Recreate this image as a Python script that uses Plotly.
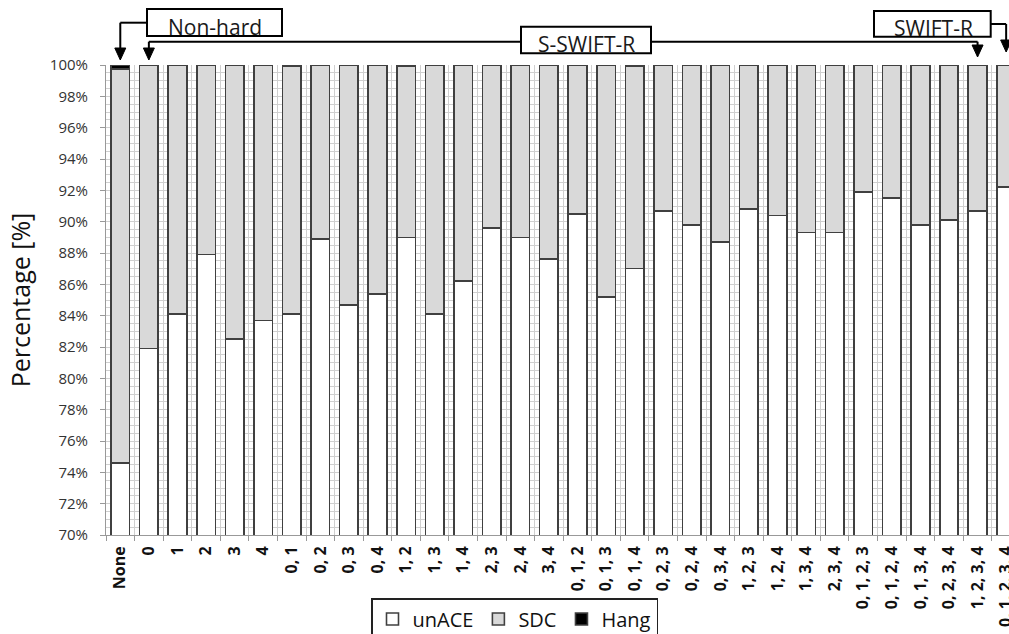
import plotly.graph_objects as go

categories = ["None", "0", "1", "2", "3", "4",
              "0, 1", "0, 2", "0, 3", "0, 4", "1, 2", "1, 3", "1, 4", "2, 3", "2, 4", "3, 4",
              "0, 1, 2", "0, 1, 3", "0, 1, 4", "0, 2, 3", "0, 2, 4", "0, 3, 4",
              "1, 2, 3", "1, 2, 4", "1, 3, 4", "2, 3, 4",
              "0, 1, 2, 3", "0, 1, 2, 4", "0, 1, 3, 4", "0, 2, 3, 4", "1, 2, 3, 4",
              "0, 1, 2, 3, 4"]

unace = [74.6, 81.9, 84.1, 87.9, 82.5, 83.7,
         84.1, 88.9, 84.7, 85.4, 89.0, 84.1, 86.2, 89.6, 89.0, 87.6,
         90.5, 85.2, 87.0, 90.7, 89.8, 88.7,
         90.8, 90.4, 89.3, 89.3,
         91.9, 91.5, 89.8, 90.1, 90.7,
         92.2]

sdc = [25.15, 18.1, 15.9, 12.1, 17.5, 16.3,
       15.8, 11.1, 15.3, 14.6, 10.9, 15.9, 13.8, 10.4, 11.0, 12.4,
       9.5, 14.8, 12.92, 9.3, 10.2, 11.3,
       9.2, 9.6, 10.7, 10.7,
       8.1, 8.5, 10.2, 9.9, 9.3,
       7.8]

hang = [0.25, 0, 0, 0, 0, 0,
        0.1, 0, 0, 0, 0.1, 0, 0, 0, 0, 0,
        0, 0, 0.08, 0, 0, 0,
        0, 0, 0, 0,
        0, 0, 0, 0, 0,
        0]

series_names = ["unACE", "SDC", "Hang"]
series_colors = ["#ffffff", "#d9d9d9", "#000000"]

FONT = "Open Sans"
X_RANGE = [-0.5, 31.1]

fig = go.Figure()
for name, vals, col in zip(series_names, [unace, sdc, hang], series_colors):
    fig.add_trace(go.Bar(
        x=categories, y=vals, name=name,
        marker=dict(color=col, line=dict(color="#404040", width=1.6)),
    ))


def xp(i):
    return (i - X_RANGE[0]) / (X_RANGE[1] - X_RANGE[0])


def yp(py):
    # pixel row (from top of figure) -> paper coordinate; plot spans rows 65..535
    return (535 - py) / 470.0


def xpx(px):
    return (px - 106) / 903.0


shapes = []
LW = 2
TRI_HW = 5.5 / 903.0
TRI_H = 12 / 470.0


def line(x0, y0, x1, y1):
    shapes.append(dict(type="line", xref="paper", yref="paper", x0=x0, y0=y0, x1=x1, y1=y1,
                       line=dict(color="black", width=LW)))


def arrow_head(x, ytip):
    shapes.append(dict(type="path", xref="paper", yref="paper",
                       path=f"M {x - TRI_HW},{ytip + TRI_H} L {x + TRI_HW},{ytip + TRI_H} L {x},{ytip} Z",
                       fillcolor="black", line=dict(color="black", width=1)))


def box(x0, y0, x1, y1):
    shapes.append(dict(type="rect", xref="paper", yref="paper", x0=x0, y0=y0, x1=x1, y1=y1,
                       fillcolor="white", line=dict(color="black", width=LW)))


# Non-hard -> None
nh_y = yp(22.7)
line(xp(0), nh_y, xpx(147), nh_y)
line(xp(0), nh_y, xp(0), yp(48))
arrow_head(xp(0), yp(60))
box(xpx(147), yp(36), xpx(282), yp(9))

# S-SWIFT-R : from "0" to "1, 2, 3, 4"
ss_y = yp(41.7)
line(xp(1), ss_y, xp(30), ss_y)
line(xp(1), ss_y, xp(1), yp(48))
line(xp(30), ss_y, xp(30), yp(45))
arrow_head(xp(1), yp(60))
arrow_head(xp(30), yp(57))
box(xpx(521), yp(53.3), xpx(651), yp(26.7))

# SWIFT-R -> full protection
sw_y = yp(24)
line(xpx(990.7), sw_y, xp(31), sw_y)
line(xp(31), sw_y, xp(31), yp(40))
arrow_head(xp(31), yp(52))
box(xpx(874), yp(36.7), xpx(990.7), yp(11))

annotations = [
    dict(text="Non-hard", x=xpx(214.5), y=yp(27)),
    dict(text="S-SWIFT-R", x=xpx(586), y=yp(43.5)),
    dict(text="SWIFT-R", x=xpx(933), y=yp(27.5)),
]
for a in annotations:
    a.update(xref="paper", yref="paper", showarrow=False, xanchor="center", yanchor="middle",
             font=dict(family=FONT, size=21, color="#1a1a1a"))

fig.update_layout(
    barmode="stack",
    bargap=0.35,
    width=1009, height=634,
    margin=dict(l=106, r=0, t=65, b=99, autoexpand=False),
    paper_bgcolor="white", plot_bgcolor="white",
    font=dict(family=FONT, color="#222"),
    shapes=shapes,
    annotations=annotations,
    showlegend=True,
    legend=dict(orientation="h", traceorder="normal",
                x=xpx(514.5), xanchor="center", y=yp(598), yanchor="top",
                bordercolor="#222", borderwidth=1.5, bgcolor="white",
                itemwidth=30,
                font=dict(family=FONT, size=20, color="#111")),
    xaxis=dict(type="category", range=X_RANGE, tickson="boundaries",
               ticks="outside", ticklen=5, tickcolor="#999", tickwidth=1,
               showgrid=True, gridcolor="#d0d0d0", gridwidth=1,
               showline=True, linecolor="#999", linewidth=1,
               tickangle=-90, ticklabelstandoff=4,
               tickfont=dict(family=FONT, size=16, color="#111", weight="bold")),
    yaxis=dict(range=[70, 100], dtick=2, ticksuffix="%",
               ticks="outside", ticklen=5, tickcolor="#999",
               showgrid=True, gridcolor="#d0d0d0", gridwidth=1,
               minor=dict(dtick=0.5, showgrid=True, gridcolor="#d0d0d0", gridwidth=1),
               showline=True, linecolor="#999", linewidth=1,
               zeroline=False, ticklabelstandoff=9,
               tickfont=dict(family=FONT, size=15, color="#333"),
               title=dict(text="Percentage [%]", font=dict(family=FONT, size=25, color="#111"),
                          standoff=12)),
)

fig.write_html("out.html", config={"displayModeBar": False},
               post_script="document.body.style.margin='0px';")
